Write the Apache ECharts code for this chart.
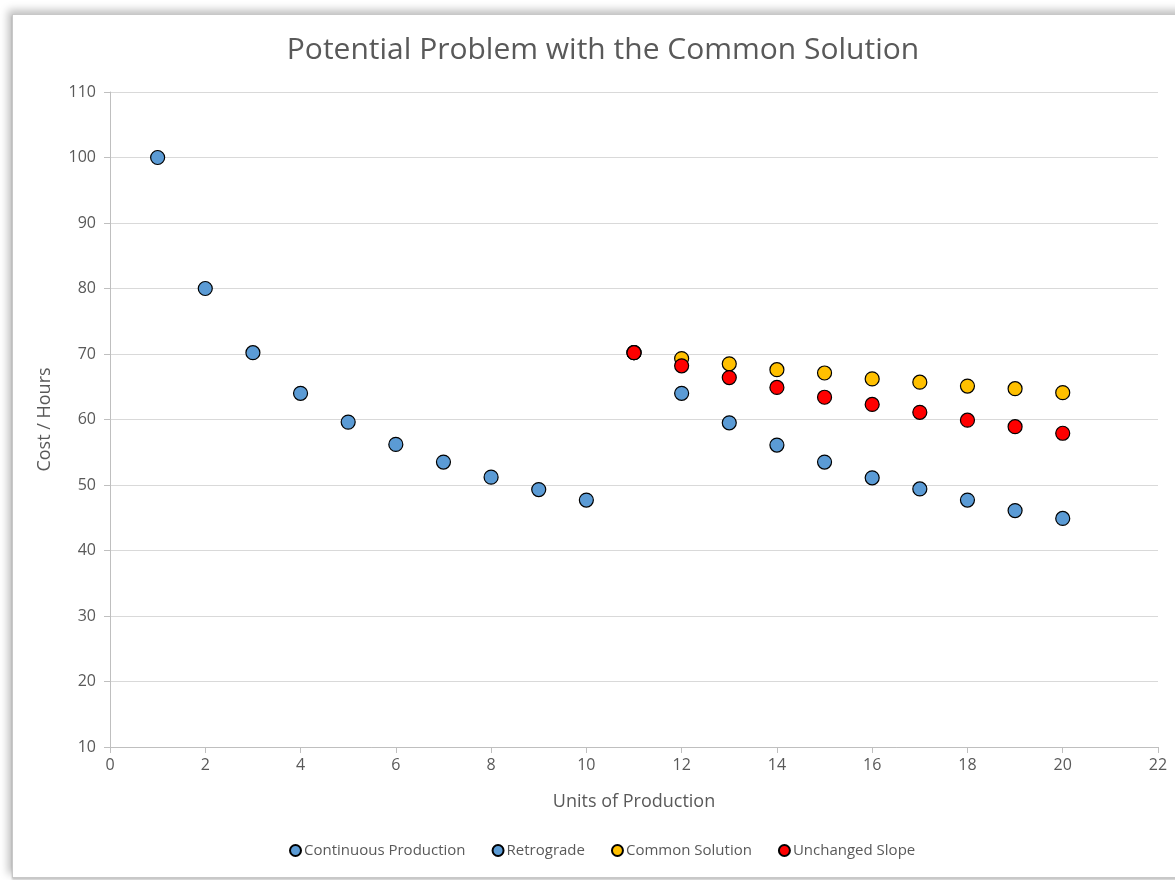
<!DOCTYPE html>
<html>
<head>
<meta charset="utf-8">
<script src="https://cdn.jsdelivr.net/npm/echarts@6/dist/echarts.min.js"></script>
<style>
html,body{margin:0;padding:0;background:#fff;width:1175px;height:880px;overflow:hidden;}
#frame{position:absolute;left:12px;top:14px;width:1200px;height:862px;border:1px solid #c8c8c8;box-shadow:-4px -4px 8px rgba(0,0,0,0.25), 0 2px 2px rgba(0,0,0,0.2);background:#fff;}
#chart{position:absolute;left:0;top:0;width:1175px;height:880px;}
</style>
</head>
<body>
<div id="frame"></div>
<div id="chart"></div>
<script>
const continuousX = [1,2,3,4,5,6,7,8,9,10];
const continuousY = [100,80,70.2,64.0,59.6,56.2,53.5,51.2,49.3,47.7];
const retroX = [11,12,13,14,15,16,17,18,19,20];
const retroY = [70.2,64.0,59.5,56.1,53.5,51.1,49.4,47.7,46.1,44.9];
const commonX = [11,12,13,14,15,16,17,18,19,20];
const commonY = [70.2,69.3,68.5,67.6,67.1,66.2,65.7,65.1,64.7,64.1];
const slopeX = [11,12,13,14,15,16,17,18,19,20];
const slopeY = [70.2,68.2,66.4,64.9,63.4,62.3,61.1,59.9,58.9,57.9];
const seriesNames = ['Continuous Production','Retrograde','Common Solution','Unchanged Slope'];
const colors = ['#5B9BD5','#5B9BD5','#FFC000','#FF0000'];

function pairs(xs, ys){ return xs.map((x,i)=>[x, ys[i]]); }
const dataSets = [pairs(continuousX,continuousY), pairs(retroX,retroY), pairs(commonX,commonY), pairs(slopeX,slopeY)];

const chart = echarts.init(document.getElementById('chart'));
const font = '"Open Sans", "Liberation Sans", sans-serif';
chart.setOption({
  animation:false,
  textStyle:{fontFamily:font},
  title:{text:'Potential Problem with the Common Solution',left:598,textAlign:'center',top:30,
    textStyle:{fontFamily:font,fontSize:30,fontWeight:'normal',color:'#595959'}},
  grid:{left:110,top:92,right:17,bottom:133},
  legend:{bottom:17,left:284,width:800,itemWidth:11,itemHeight:11,itemGap:26,
    data:seriesNames.map(n=>({name:n,icon:'circle'})),
    textStyle:{fontSize:15,color:'#595959',fontFamily:font,padding:[0,0,0,-2]}},
  xAxis:{type:'value',min:0,max:22,interval:2,
    name:'Units of Production',nameLocation:'middle',nameGap:46,
    nameTextStyle:{fontSize:18,color:'#595959'},
    axisLine:{show:true,lineStyle:{color:'#bfbfbf'}},
    axisTick:{show:true,length:6,lineStyle:{color:'#bfbfbf'}},
    axisLabel:{fontSize:16,color:'#595959',margin:10},
    splitLine:{show:false}},
  yAxis:{type:'value',min:10,max:110,interval:10,
    name:'Cost / Hours',nameLocation:'middle',nameGap:56,
    nameTextStyle:{fontSize:18,color:'#595959'},
    axisLine:{show:true,lineStyle:{color:'#bfbfbf'}},
    axisTick:{show:true,length:6,lineStyle:{color:'#bfbfbf'}},
    axisLabel:{fontSize:16,color:'#595959',margin:14},
    splitLine:{show:true,lineStyle:{color:'#d9d9d9'}}},
  series: seriesNames.map((n,i)=>({
    name:n,type:'scatter',data:dataSets[i],symbolSize:14,
    itemStyle:{color:colors[i],borderColor:'#000',borderWidth:1.2,opacity:1},
    emphasis:{disabled:true}
  }))
});
</script>
</body>
</html>
